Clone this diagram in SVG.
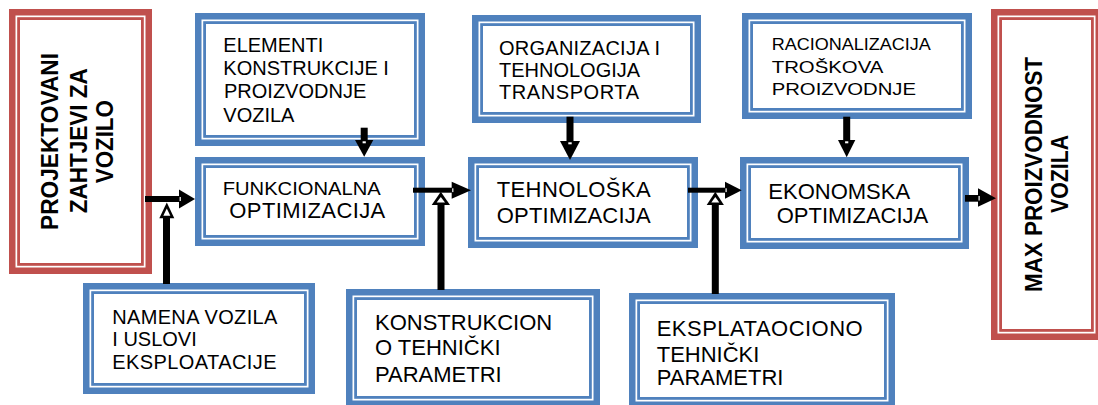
<svg xmlns="http://www.w3.org/2000/svg" width="1098" height="405" viewBox="0 0 1098 405">
<style>
.ro{fill:none;stroke:#C0504D;stroke-width:6.5}
.ri{fill:#fff;stroke:#C0504D;stroke-width:2.8}
.bo{fill:none;stroke:#4F81BD;stroke-width:6.5}
.bi{fill:#fff;stroke:#4F81BD;stroke-width:2.8}
.bg{fill:#fff}
text{font-family:"Liberation Sans",Arial,sans-serif;fill:#000}
.h{font-weight:bold;font-size:24px}
.f20{font-size:20px}
.f22{font-size:22px}
.f17{font-size:17px}
.k{fill:#000}
.w{fill:#fff}
</style>
<rect x="0" y="0" width="1098" height="405" fill="#fff"/>
<g id="projektovani">
<rect class="bg" x="9" y="9" width="143" height="265"/>
<rect class="ro" x="12.25" y="12.25" width="136.5" height="258.5"/>
<rect class="ri" x="18.6" y="18.6" width="123.8" height="245.8"/>
<text class="h" text-anchor="middle" transform="translate(58.3,141.5) rotate(-90)" textLength="177" lengthAdjust="spacingAndGlyphs">PROJEKTOVANI</text>
<text class="h" text-anchor="middle" transform="translate(86.8,140.7) rotate(-90)" textLength="145" lengthAdjust="spacingAndGlyphs">ZAHTJEVI ZA</text>
<text class="h" text-anchor="middle" transform="translate(113.3,141.7) rotate(-90)" textLength="83" lengthAdjust="spacingAndGlyphs">VOZILO</text>
</g>
<g id="max">
<rect class="bg" x="991" y="9" width="111" height="331"/>
<rect class="ro" x="994.25" y="12.25" width="104.5" height="324.5"/>
<rect class="ri" x="1000.6" y="18.6" width="91.8" height="311.8"/>
<text class="h" text-anchor="middle" transform="translate(1042,174.5) rotate(-90)" textLength="235" lengthAdjust="spacingAndGlyphs">MAX PROIZVODNOST</text>
<text class="h" text-anchor="middle" transform="translate(1067.5,174) rotate(-90)" textLength="78" lengthAdjust="spacingAndGlyphs">VOZILA</text>
</g>
<g id="elementi">
<rect class="bo" x="198.25" y="16.25" width="223.5" height="126.5"/>
<rect class="bi" x="204.6" y="22.6" width="210.8" height="113.8"/>
<text class="f20" x="223.3" y="51.7">ELEMENTI</text>
<text class="f20" x="223.3" y="75">KONSTRUKCIJE I</text>
<text class="f20" x="224" y="98.3">PROIZVODNJE</text>
<text class="f20" x="223.3" y="121.7">VOZILA</text>
</g>
<g id="funkcionalna">
<rect class="bo" x="198.25" y="160.25" width="223.5" height="82.5"/>
<rect class="bi" x="204.6" y="166.6" width="210.8" height="69.8"/>
<text font-size="19" x="222.7" y="195" textLength="158" lengthAdjust="spacingAndGlyphs">FUNKCIONALNA</text>
<text class="f22" x="229.3" y="218.3" textLength="156">OPTIMIZACIJA</text>
</g>
<g id="organizacija">
<rect class="bo" x="475.25" y="18.25" width="222.5" height="101.5"/>
<rect class="bi" x="481.6" y="24.6" width="209.8" height="88.8"/>
<text class="f20" x="499" y="55" textLength="161">ORGANIZACIJA I</text>
<text class="f20" x="499" y="77.3">TEHNOLOGIJA</text>
<text class="f20" x="499" y="99.3" textLength="140">TRANSPORTA</text>
</g>
<g id="tehnoloska">
<rect class="bo" x="471.25" y="160.25" width="223.5" height="84.5"/>
<rect class="bi" x="477.6" y="166.6" width="210.8" height="71.8"/>
<text class="f22" x="496.7" y="197.3" textLength="154">TEHNOLOŠKA</text>
<text class="f22" x="496.7" y="222.7" textLength="154">OPTIMIZACIJA</text>
</g>
<g id="racionalizacija">
<rect class="bo" x="745.25" y="16.25" width="223.5" height="99.5"/>
<rect class="bi" x="751.6" y="22.6" width="210.8" height="86.8"/>
<text class="f17" x="771.7" y="50" textLength="159" lengthAdjust="spacingAndGlyphs">RACIONALIZACIJA</text>
<text class="f17" x="771.7" y="72.7" textLength="111.7" lengthAdjust="spacingAndGlyphs">TROŠKOVA</text>
<text class="f17" x="771.7" y="95" textLength="144.3" lengthAdjust="spacingAndGlyphs">PROIZVODNJE</text>
</g>
<g id="ekonomska">
<rect class="bo" x="743.25" y="160.25" width="222.5" height="85.5"/>
<rect class="bi" x="749.6" y="166.6" width="209.8" height="72.8"/>
<text class="f22" x="768.3" y="199.3">EKONOMSKA</text>
<text class="f22" x="776.7" y="222.7">OPTIMIZACIJA</text>
</g>
<g id="namena">
<rect class="bo" x="86.25" y="286.25" width="225.5" height="104.5"/>
<rect class="bi" x="92.6" y="292.6" width="212.8" height="91.8"/>
<text class="f20" x="112.3" y="324" textLength="165">NAMENA VOZILA</text>
<text class="f20" x="112.3" y="346">I USLOVI</text>
<text class="f20" x="112.3" y="369.3" textLength="164.3">EKSPLOATACIJE</text>
</g>
<g id="konstrukciono">
<rect class="bo" x="349.25" y="292.25" width="247.5" height="111.5"/>
<rect class="bi" x="355.6" y="298.6" width="234.8" height="98.8"/>
<text class="f22" x="375" y="330">KONSTRUKCION</text>
<text class="f22" x="375" y="355">O TEHNIČKI</text>
<text class="f22" x="375" y="381.7">PARAMETRI</text>
</g>
<g id="eksplatacijono">
<rect class="bo" x="632.25" y="296.25" width="259.5" height="108.5"/>
<rect class="bi" x="638.6" y="302.6" width="246.8" height="95.8"/>
<text class="f22" x="656.7" y="335.7" textLength="206">EKSPLATAOCIONO</text>
<text class="f22" x="656.7" y="361.7">TEHNIČKI</text>
<text class="f22" x="656.7" y="385">PARAMETRI</text>
</g>
<g id="connectors">
<!-- projektovani -> funkcionalna -->
<rect class="k" x="145" y="196" width="35" height="6"/>
<polygon class="k" points="179,189.5 195,199 179,208.5"/>
<rect class="w" x="179.6" y="197" width="1.2" height="4"/>
<!-- namena up -->
<rect class="k" x="163" y="217" width="7" height="67"/>
<polygon class="k" points="159.3,218.3 174.3,218.3 166.8,202.5"/>
<polygon class="w" points="163.3,215.8 170.3,215.8 166.8,208.5"/>
<!-- elementi down -->
<rect class="k" x="360.7" y="127.7" width="7" height="13"/>
<polygon class="k" points="355,140 373.3,140 364.2,156.7"/>
<rect class="w" x="362.6" y="141.3" width="3.2" height="2"/>
<!-- funkcionalna -> tehnoloska -->
<rect class="k" x="413" y="187.7" width="39.5" height="5"/>
<polygon class="k" points="451.7,181.7 471,190.2 451.7,198.7"/>
<rect class="w" x="452.2" y="188.3" width="1.2" height="3.8"/>
<!-- konstrukciono up -->
<rect class="k" x="437.5" y="204" width="7" height="86"/>
<polygon class="k" points="431.7,205 450,205 440.8,191.7"/>
<polygon class="w" points="436.6,202.5 445,202.5 440.8,197"/>
<!-- organizacija down -->
<rect class="k" x="566.5" y="116.7" width="7" height="25"/>
<polygon class="k" points="560,141 580,141 570,160"/>
<rect class="w" x="568.3" y="142.3" width="3.4" height="2"/>
<!-- tehnoloska -> ekonomska -->
<rect class="k" x="688" y="187.7" width="37.5" height="5"/>
<polygon class="k" points="725,181.7 741.7,190.2 725,198.7"/>
<rect class="w" x="725.5" y="188.3" width="1.2" height="3.8"/>
<!-- eksplatacijono up -->
<rect class="k" x="711.8" y="204" width="7" height="90"/>
<polygon class="k" points="706.7,205 723.9,205 715.3,191.7"/>
<polygon class="w" points="711.3,202.5 719.3,202.5 715.3,197"/>
<!-- racionalizacija down -->
<rect class="k" x="843.2" y="116.7" width="7" height="24"/>
<polygon class="k" points="838,140 855.3,140 846.7,157.3"/>
<rect class="w" x="845.1" y="141.3" width="3.2" height="2"/>
<!-- ekonomska -> max -->
<rect class="k" x="965" y="195" width="14" height="6.7"/>
<polygon class="k" points="978,188.3 996,198.3 978,206.7"/>
<rect class="w" x="978.5" y="196" width="1.2" height="4.5"/>
</g>
</svg>
